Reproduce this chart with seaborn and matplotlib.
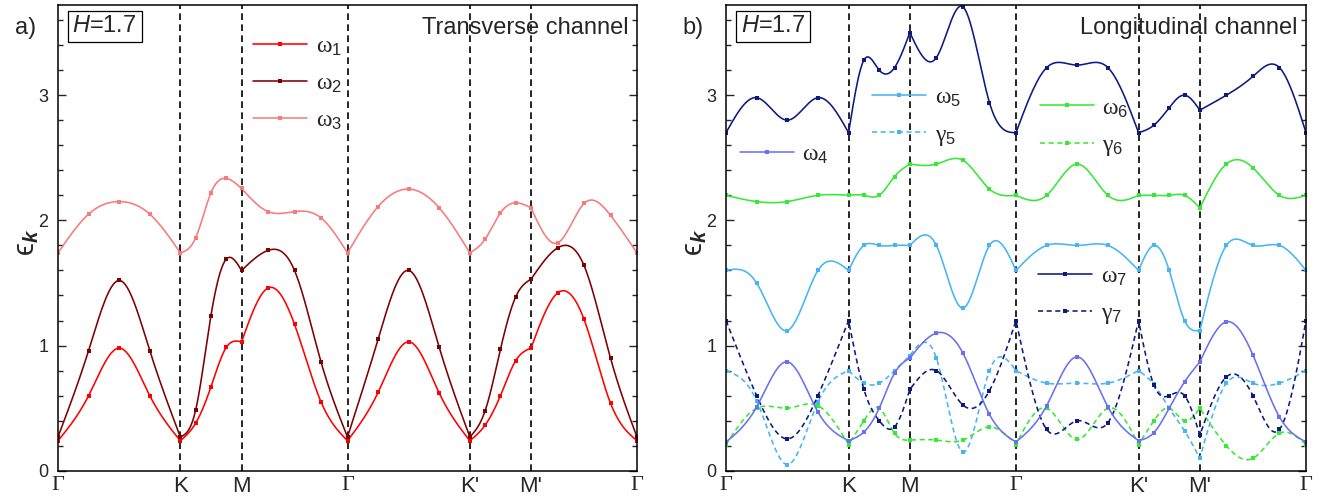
import numpy as np
import pandas as pd
import seaborn as sns
import matplotlib
matplotlib.use("Agg")
import matplotlib.pyplot as plt
from matplotlib.legend import Legend

# ---------------- data ----------------
path_labels = ["Γ", "K", "M", "Γ", "K'", "M'", "Γ"]
# path segment lengths (hexagonal BZ, |ΓK| = 1)
seg_len = [1.0, 0.5, np.sqrt(3) / 2, 1.0, 0.5, np.sqrt(3) / 2]
pts_per_seg = 4

w1 = [0.24, 0.60, 0.98, 0.60, 0.24, 0.38, 0.67, 0.985, 1.03, 1.46, 1.17, 0.55, 0.24,
      0.626, 1.03, 0.62, 0.24, 0.365, 0.60, 0.88, 0.98, 1.42, 1.21, 0.54, 0.24]
w2 = [0.27, 0.96, 1.52, 0.96, 0.27, 0.485, 1.24, 1.69, 1.60, 1.76, 1.60, 0.87, 0.27,
      1.05, 1.60, 0.985, 0.27, 0.48, 0.97, 1.39, 1.53, 1.78, 1.64, 0.90, 0.27]
w3 = [1.74, 2.05, 2.15, 2.05, 1.74, 1.86, 2.22, 2.335, 2.255, 2.07, 2.07, 2.02, 1.74,
      2.11, 2.25, 2.10, 1.74, 1.85, 2.06, 2.14, 2.10, 1.82, 2.135, 2.04, 1.74]

w4 = [0.23, 0.51, 0.87, 0.47, 0.24, 0.31, 0.50, 0.78, 0.90, 1.10, 0.94, 0.45, 0.23,
      0.52, 0.91, 0.51, 0.24, 0.305, 0.50, 0.71, 0.87, 1.19, 0.925, 0.43, 0.23]
w5 = [1.60, 1.50, 1.12, 1.60, 1.60, 1.80, 1.80, 1.80, 1.80, 1.80, 1.30, 1.80, 1.60,
      1.80, 1.80, 1.80, 1.60, 1.80, 1.60, 1.20, 1.12, 1.80, 1.80, 1.80, 1.60]
g5 = [0.80, 0.56, 0.05, 0.55, 0.80, 0.70, 0.70, 0.80, 0.92, 0.90, 0.15, 0.80, 0.80,
      0.70, 0.70, 0.70, 0.80, 0.69, 0.50, 0.32, 0.10, 0.70, 0.70, 0.70, 0.80]
w6 = [2.20, 2.15, 2.15, 2.20, 2.20, 2.20, 2.20, 2.35, 2.45, 2.45, 2.48, 2.25, 2.20,
      2.20, 2.45, 2.20, 2.20, 2.20, 2.20, 2.20, 2.10, 2.45, 2.42, 2.20, 2.20]
g6 = [0.21, 0.50, 0.50, 0.52, 0.21, 0.40, 0.50, 0.30, 0.245, 0.245, 0.245, 0.35, 0.21,
      0.50, 0.25, 0.50, 0.21, 0.40, 0.50, 0.40, 0.50, 0.20, 0.10, 0.30, 0.21]
w7 = [2.70, 2.98, 2.80, 2.98, 2.70, 3.28, 3.20, 3.22, 3.50, 3.30, 3.705, 2.94, 2.70,
      3.22, 3.24, 3.22, 2.70, 2.76, 2.90, 3.00, 2.88, 3.00, 3.15, 3.22, 2.70]
g7 = [1.20, 0.60, 0.255, 0.60, 1.20, 0.65, 0.40, 0.35, 0.65, 0.80, 0.525, 0.64, 1.20,
      0.33, 0.40, 0.385, 1.20, 0.685, 0.60, 0.60, 0.285, 0.75, 0.60, 0.33, 1.20]

H_text = "$H$=1.7"
title_a = "Transverse channel"
title_b = "Longitudinal channel"

# ---------------- style ----------------
sns.set_style("ticks")
plt.rcParams["font.family"] = ["Liberation Sans", "DejaVu Sans"]
plt.rcParams["mathtext.fontset"] = "custom"
plt.rcParams["mathtext.rm"] = "Liberation Sans"
plt.rcParams["mathtext.it"] = "Liberation Sans:italic"
plt.rcParams["mathtext.bf"] = "Liberation Sans:bold"
plt.rcParams["mathtext.bfit"] = "Liberation Sans:italic:bold"

# ---------------- geometry of the k-path ----------------
nodes = np.concatenate([[0.0], np.cumsum(seg_len)])
xk = np.concatenate([np.linspace(nodes[i], nodes[i + 1], pts_per_seg + 1)[:-1]
                     for i in range(len(seg_len))] + [[nodes[-1]]])
n_sub = 30


def natural_spline(x, y, xq):
    x = np.asarray(x, float); y = np.asarray(y, float)
    n = len(x); h = np.diff(x)
    A = np.zeros((n, n)); r = np.zeros(n)
    A[0, 0] = A[-1, -1] = 1.0
    for i in range(1, n - 1):
        A[i, i - 1] = h[i - 1]; A[i, i] = 2 * (h[i - 1] + h[i]); A[i, i + 1] = h[i]
        r[i] = 6 * ((y[i + 1] - y[i]) / h[i] - (y[i] - y[i - 1]) / h[i - 1])
    M = np.linalg.solve(A, r)
    idx = np.clip(np.searchsorted(x, xq, side="right") - 1, 0, n - 2)
    t = xq - x[idx]; hh = h[idx]
    a = (M[idx + 1] - M[idx]) / (6 * hh)
    b = M[idx] / 2
    c = (y[idx + 1] - y[idx]) / hh - hh * (2 * M[idx] + M[idx + 1]) / 6
    return y[idx] + c * t + b * t ** 2 + a * t ** 3


def smooth_path(vals):
    """Spline each high-symmetry segment separately (kinks allowed at K, M, Γ...)."""
    vals = np.asarray(vals, float)
    xs, ys = [], []
    for s in range(len(seg_len)):
        sl = slice(s * pts_per_seg, (s + 1) * pts_per_seg + 1)
        xseg, yseg = xk[sl], vals[sl]
        xq = np.concatenate([np.linspace(xseg[i], xseg[i + 1], n_sub + 1)[:-1]
                             for i in range(len(xseg) - 1)])
        if s == len(seg_len) - 1:
            xq = np.append(xq, xseg[-1])
        xs.append(xq); ys.append(natural_spline(xseg, yseg, xq))
    return np.concatenate(xs), np.concatenate(ys)


mark_idx = list(range(0, len(seg_len) * pts_per_seg * n_sub + 1, n_sub))


def draw(ax, vals, color, label, dashed=False):
    xf, yf = smooth_path(vals)
    df = pd.DataFrame({"k": xf, "e": yf})
    ls = (0, (3.2, 2.2)) if dashed else "-"
    sns.lineplot(data=df, x="k", y="e", ax=ax, color=color, lw=1.15, legend=False,
                 linestyle=ls, marker="s", markersize=3.3, markeredgewidth=0,
                 markevery=mark_idx, label=label, errorbar=None, sort=False)
    return ax.lines[-1]


W, Hh = 1330, 501
fig = plt.figure(figsize=(W / 100, Hh / 100), dpi=100)
axa = fig.add_axes([58 / W, 1 - 470.8 / Hh, 579 / W, 465.8 / Hh])
axb = fig.add_axes([726 / W, 1 - 470.8 / Hh, 580 / W, 465.8 / Hh])

c1, c2, c3 = "#ff0000", "#7f0000", "#f77b7b"
c4, c5, c6, c7 = "#6a70f0", "#47b5f5", "#37e837", "#0c1a82"

h1 = draw(axa, w1, c1, "ω$_1$")
h2 = draw(axa, w2, c2, "ω$_2$")
h3 = draw(axa, w3, c3, "ω$_3$")

hb5g = draw(axb, g5, c5, "γ$_5$", dashed=True)
hb6g = draw(axb, g6, c6, "γ$_6$", dashed=True)
hb7g = draw(axb, g7, c7, "γ$_7$", dashed=True)
hb4 = draw(axb, w4, c4, "ω$_4$")
hb5 = draw(axb, w5, c5, "ω$_5$")
hb6 = draw(axb, w6, c6, "ω$_6$")
hb7 = draw(axb, w7, c7, "ω$_7$")

for ax, lab, title in [(axa, "a)", title_a), (axb, "b)", title_b)]:
    ax.set_xlim(nodes[0], nodes[-1])
    ax.set_ylim(0, 3.72)
    for xv in nodes[1:-1]:
        ax.axvline(xv, color="black", lw=1.2, linestyle=(0, (4, 2.6)), zorder=0.5)
    ax.set_xticks(nodes)
    ax.set_xticklabels(path_labels, fontsize=16)
    for t in ax.get_xticklabels():
        if t.get_text() == "Γ":
            t.set_fontfamily(["Liberation Serif", "DejaVu Serif"])
    ax.tick_params(axis="x", length=0, pad=4)
    ax.set_yticks([0, 1, 2, 3])
    ax.set_yticks(np.arange(0, 3.8, 0.2), minor=True)
    ax.tick_params(axis="y", which="major", direction="in", length=6, width=1.0,
                   labelsize=13, right=True, pad=7)
    ax.tick_params(axis="y", which="minor", direction="in", length=3.5, width=1.0, right=True)
    for s in ax.spines.values():
        s.set_linewidth(1.1)
        s.set_color("black")
    ax.set_xlabel("")
    ax.set_ylabel("ϵ$_{\\boldsymbol{k}}$", fontsize=21, labelpad=0)
    ax.yaxis.set_label_coords(-0.03, 0.49)
    ax.text(0.025, 0.978, H_text, transform=ax.transAxes, ha="left", va="top",
            fontsize=17, bbox=dict(boxstyle="square,pad=0.2", fc="white", ec="black", lw=0.9))
    ax.text(0.985, 0.975, title, transform=ax.transAxes, ha="right", va="top", fontsize=17)
    ax.text(-0.075, 0.975, lab, transform=ax.transAxes, ha="left", va="top", fontsize=17)


def add_leg(ax, handles, x, y):
    leg = Legend(ax, handles, [h.get_label() for h in handles], loc="upper left",
                 bbox_to_anchor=(x, y), bbox_transform=ax.transAxes, frameon=False,
                 prop={"family": ["Liberation Serif", "DejaVu Serif"], "size": 17},
                 handlelength=2.3, handletextpad=0.35, labelspacing=0.62,
                 borderpad=0, borderaxespad=0, numpoints=1)
    ax.add_artist(leg)


add_leg(axa, [h1, h2, h3], 0.337, 0.935)
add_leg(axb, [hb4], 0.024, 0.702)
add_leg(axb, [hb5, hb5g], 0.252, 0.824)
add_leg(axb, [hb6, hb6g], 0.541, 0.802)
add_leg(axb, [hb7, hb7g], 0.538, 0.440)

fig.savefig("out.png", dpi=100)
